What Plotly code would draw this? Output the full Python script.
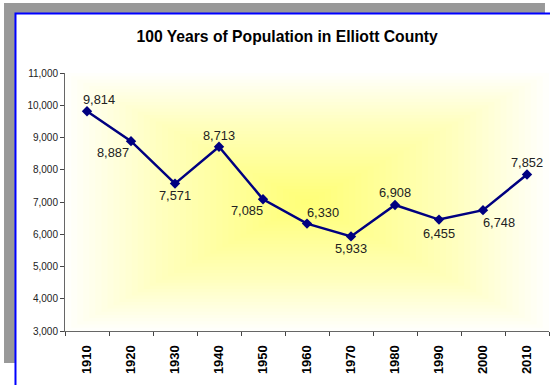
import plotly.graph_objects as go

# census years and population
years = ["1910", "1920", "1930", "1940", "1950", "1960", "1970", "1980", "1990", "2000", "2010"]
population = [9814, 8887, 7571, 8713, 7085, 6330, 5933, 6908, 6455, 6748, 7852]

# where each value label sits relative to its point (pixels)
label_dx = [12, -18, 0, 0, -16, 16, 0, 0, 0, 16, 0]
label_dy = [-12, 11, 12, -11, 11, -11, 12, -12, 14, 12, -12]

FONT = "Liberation Sans, Arial, sans-serif"

fig = go.Figure()

fig.add_trace(go.Scatter(
    x=years,
    y=population,
    mode="lines+markers",
    line=dict(color="#000080", width=2.5),
    marker=dict(symbol="diamond", size=8, color="#000080"),
    hoverinfo="x+y",
))

# category axis: annotations placed by category index
for i, (val, dx, dy) in enumerate(zip(population, label_dx, label_dy)):
    fig.add_annotation(
        x=i, y=val, text=f"{val:,}",
        showarrow=False, xshift=dx, yshift=-dy,
        font=dict(family=FONT, size=12.8, color="#222"),
    )

# frame: grey shadow + white box with blue edge
shapes = [
    dict(type="rect", xref="paper", yref="paper", x0=-0.126, x1=0.9917, y0=-0.124, y1=1.2713,
         fillcolor="#999999", line=dict(width=0), layer="below"),
    dict(type="rect", xref="paper", yref="paper", x0=-0.1023, x1=1.2, y0=-0.6, y1=1.2306,
         fillcolor="white", line=dict(color="#0000ff", width=2), layer="below"),
]

# yellow "from centre" fill of the plot area
n = 40
for i in range(n):
    s = 1 - i / n
    shapes.append(dict(
        type="rect", xref="paper", yref="paper",
        x0=0.5 - 0.5 * s, x1=0.5 + 0.5 * s,
        y0=0.5 - 0.5 * s, y1=0.5 + 0.5 * s,
        fillcolor="rgba(255,255,0,0.016)", line=dict(width=0), layer="below",
    ))

fig.update_layout(
    width=550, height=385,
    margin=dict(l=65, r=1, t=73, b=54),
    paper_bgcolor="white",
    plot_bgcolor="rgba(0,0,0,0)",
    showlegend=False,
    shapes=shapes,
    title=dict(
        text="<b>100 Years of Population in Elliott County</b>",
        x=0.522, xref="container", xanchor="center",
        y=0.906, yref="container", yanchor="middle",
        font=dict(family=FONT, size=15.7, color="black"),
    ),
)

fig.update_xaxes(
    type="category",
    range=[-0.5, 10.5],
    automargin=False,
    showgrid=False,
    showline=True, linecolor="#666", linewidth=1,
    ticks="outside", tickson="boundaries", ticklen=4, tickcolor="#444",
    tickangle=-90,
    ticklabelstandoff=8,
    tickfont=dict(family=FONT, size=13, color="black", weight="bold"),
)

fig.update_yaxes(
    range=[3000, 11000],
    dtick=1000,
    tickformat=",d",
    automargin=False,
    showgrid=False, zeroline=False,
    showline=True, linecolor="#666", linewidth=1,
    ticks="outside", ticklen=4, tickcolor="#444",
    tickfont=dict(family=FONT, size=10, color="#222"),
)

# page body has a default 8px margin; drop it so the figure fills the window
fig.write_html("out.html", config={"displayModeBar": False},
               post_script="document.body.style.margin='0';")
